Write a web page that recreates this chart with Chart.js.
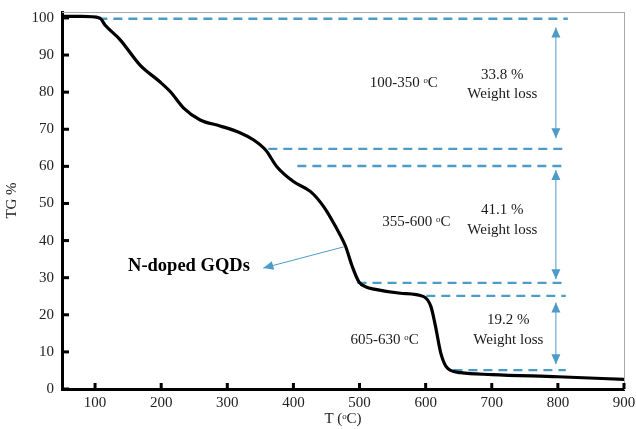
<!DOCTYPE html>
<html>
<head>
<meta charset="utf-8">
<script src="https://cdn.jsdelivr.net/npm/chart.js@4"></script>
<style>
  html, body { margin: 0; padding: 0; background: #fff; }
  #wrap { width: 636px; height: 429px; }
</style>
</head>
<body>
<div id="wrap"><canvas id="tg"></canvas></div>
<script>
// TG curve of N-doped GQDs
const temps = [50, 80, 107, 115, 138, 168, 198, 214, 234, 259, 289, 320, 340, 358, 375, 400, 426, 446, 464, 479, 489, 499, 510, 522, 562, 597, 608, 615, 623, 633, 653, 700, 800, 900];
const tg = [100.4, 100.4, 100, 98.1, 94.1, 87.3, 82.8, 80.1, 75.7, 72.5, 70.9, 69.0, 67.1, 64.4, 59.9, 55.9, 53.2, 49.1, 43.7, 38.4, 33.0, 28.9, 27.5, 26.9, 25.8, 24.9, 22.2, 16.8, 9.6, 5.6, 4.4, 3.9, 3.3, 2.6];

const xTicks = [100, 200, 300, 400, 500, 600, 700, 800, 900];
const yTicks = [0, 10, 20, 30, 40, 50, 60, 70, 80, 90, 100];

// dashed guide levels
const dashY = [99.8, 64.7, 60.1, 28.6, 25.1, 5.1];
const dashFrom = [105, 362, 406, 497, 601, 642];
const dashTo = [815, 808, 808, 812, 812, 812];

// weight loss arrows (x, top, bottom)
const lossX = 797;
const lossTop = [97.4, 59.0, 23.3];
const lossBottom = [67.6, 29.6, 6.7];
const lossPct = ["33.8 %", "41.1 %", "19.2 %"];
const ranges = ["100-350 ᵒC", "355-600 ᵒC", "605-630 ᵒC"];

const blue = "#4d9cc6";
const serif = "'Liberation Serif', 'Times New Roman', serif";

const dashPts = [];
dashY.forEach((y, i) => {
  dashPts.push({ x: dashFrom[i], y: y }, { x: dashTo[i], y: y }, { x: dashTo[i], y: null });
});

const notes = {
  id: "notes",
  afterDatasetsDraw(chart) {
    const { ctx, scales: { x, y } } = chart;
    ctx.save();

    // inward tick marks
    ctx.strokeStyle = "#000";
    ctx.lineWidth = 3;
    xTicks.forEach(v => {
      const px = x.getPixelForValue(v);
      ctx.beginPath();
      ctx.moveTo(px, y.bottom);
      ctx.lineTo(px, y.bottom - 6);
      ctx.stroke();
    });
    yTicks.forEach(v => {
      const py = y.getPixelForValue(v);
      ctx.beginPath();
      ctx.moveTo(x.left, py);
      ctx.lineTo(x.left + 7, py);
      ctx.stroke();
    });

    // arrows
    const arrow = (x1, y1, x2, y2, twoHeads) => {
      const ax = x.getPixelForValue(x1), ay = y.getPixelForValue(y1);
      const bx = x.getPixelForValue(x2), by = y.getPixelForValue(y2);
      ctx.strokeStyle = blue;
      ctx.fillStyle = blue;
      ctx.lineWidth = 1;
      ctx.beginPath();
      ctx.moveTo(ax, ay);
      ctx.lineTo(bx, by);
      ctx.stroke();
      const head = (tx, ty, fx, fy) => {
        const a = Math.atan2(ty - fy, tx - fx);
        ctx.beginPath();
        ctx.moveTo(tx, ty);
        ctx.lineTo(tx - 10 * Math.cos(a) + 4.5 * Math.sin(a), ty - 10 * Math.sin(a) - 4.5 * Math.cos(a));
        ctx.lineTo(tx - 10 * Math.cos(a) - 4.5 * Math.sin(a), ty - 10 * Math.sin(a) + 4.5 * Math.cos(a));
        ctx.closePath();
        ctx.fill();
      };
      head(bx, by, ax, ay);
      if (twoHeads) head(ax, ay, bx, by);
    };
    lossTop.forEach((t, i) => arrow(lossX, lossBottom[i], lossX, t, true));
    arrow(476, 38.3, 354.5, 32.6, false);

    // labels
    ctx.fillStyle = "#1a1a1a";
    ctx.textAlign = "center";
    ctx.textBaseline = "middle";
    ctx.font = "15px " + serif;
    const txt = (s, vx, vy) => ctx.fillText(s, x.getPixelForValue(vx), y.getPixelForValue(vy));
    txt(ranges[0], 567, 82.5);
    txt(ranges[1], 586, 45.1);
    txt(ranges[2], 538, 13.2);
    txt(lossPct[0], 716, 84.6);
    txt("Weight loss", 716, 79.4);
    txt(lossPct[1], 716, 48.1);
    txt("Weight loss", 716, 42.7);
    txt(lossPct[2], 725, 18.6);
    txt("Weight loss", 725, 13.2);
    ctx.font = "bold 18.5px " + serif;
    ctx.fillStyle = "#000";
    txt("N-doped GQDs", 242, 33.0);

    ctx.restore();
  }
};

new Chart(document.getElementById("tg"), {
  type: "line",
  data: {
    datasets: [
      {
        data: temps.map((t, i) => ({ x: t, y: tg[i] })),
        borderColor: "#000",
        borderWidth: 3.2,
        pointRadius: 0,
        cubicInterpolationMode: "monotone",
        order: 0
      },
      {
        data: dashPts,
        borderColor: blue,
        borderWidth: 2.4,
        borderDash: [9, 6],
        pointRadius: 0,
        spanGaps: false,
        order: 1
      }
    ]
  },
  options: {
    responsive: true,
    maintainAspectRatio: false,
    animation: false,
    layout: { padding: { top: 12, right: 12, left: 0, bottom: 0 } },
    plugins: {
      legend: { display: false },
      tooltip: { enabled: false }
    },
    scales: {
      x: {
        type: "linear",
        min: 50,
        max: 900,
        afterBuildTicks: s => { s.ticks = xTicks.map(v => ({ value: v })); },
        afterFit: s => { s.height = 40; s.paddingLeft = 0; s.paddingRight = 0; },
        grid: { display: false, drawTicks: false },
        border: { display: true, color: "#000", width: 3 },
        ticks: { color: "#222", padding: 5, maxRotation: 0, font: { family: serif, size: 15 } },
        title: { display: true, text: "T (ᵒC)", color: "#222", padding: { top: 0, bottom: 1 }, font: { family: serif, size: 15 } }
      },
      y: {
        min: 0,
        max: 101.6,
        afterBuildTicks: s => { s.ticks = yTicks.map(v => ({ value: v })); },
        afterFit: s => { s.width = 62; s.paddingTop = 0; s.paddingBottom = 0; },
        grid: { display: false, drawTicks: false },
        border: { display: true, color: "#000", width: 3 },
        ticks: { color: "#222", padding: 8, font: { family: serif, size: 15 } },
        title: { display: true, text: "TG %", color: "#222", padding: { top: 3, bottom: 0 }, font: { family: serif, size: 15 } }
      },
      x2: {
        type: "linear",
        position: "top",
        afterFit: s => { s.height = 0; s.paddingLeft = 0; s.paddingRight = 0; },
        grid: { display: false, drawTicks: false },
        ticks: { display: false },
        border: { display: true, color: "#a8a8a8", width: 1 }
      },
      y2: {
        position: "right",
        afterFit: s => { s.width = 0; s.paddingTop = 0; s.paddingBottom = 0; },
        grid: { display: false, drawTicks: false },
        ticks: { display: false },
        border: { display: true, color: "#a8a8a8", width: 1 }
      }
    }
  },
  plugins: [notes]
});
</script>
</body>
</html>
